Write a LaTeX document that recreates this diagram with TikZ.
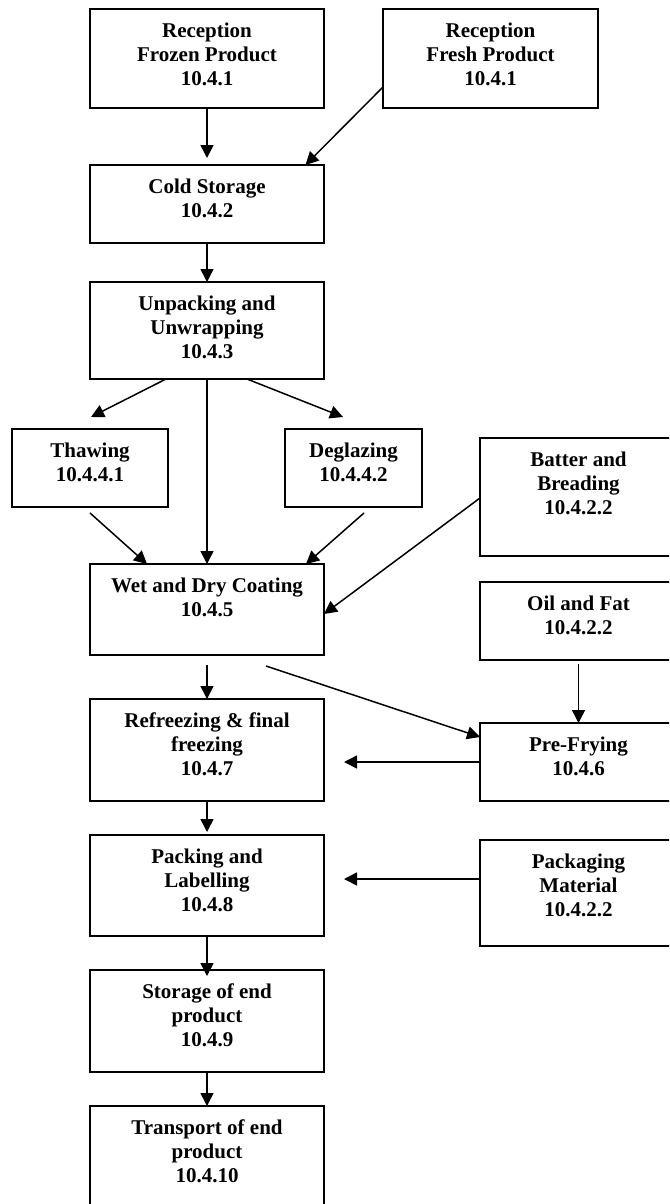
\documentclass[tikz,border=0pt]{standalone}
\usepackage{fontspec}
\setmainfont{Liberation Serif}
\usetikzlibrary{arrows.meta,calc}

% A process box: name, left x, top y, width, height, caption lines
\newcommand\procbox[6]{%
  \node[stepbox, minimum width=#4pt, minimum height=#5pt] (#1) at (#2,#3) {};
  \node[caption] (#1-text) at ($(#1.north)+(0,28.3)$)
    {\parbox[t]{#4pt}{\centering\fontsize{21}{24.3}\selectfont\bfseries #6}};%
}

\begin{document}
\begin{tikzpicture}[x=1pt,y=-1pt,
  stepbox/.style={draw, line width=1.5pt, inner sep=0pt, outer sep=0pt, anchor=north west},
  caption/.style={anchor=base, inner sep=0pt},
  flow/.style={line width=1.5pt, -{Triangle[length=13pt,width=13pt]}}]

\useasboundingbox (0,0) rectangle (669,1204);
\clip (0,0) rectangle (669,1204);

% main line of process steps
\procbox{frozen}{90}{9}{234}{99}{Reception\\Frozen Product\\10.4.1}
\procbox{fresh}{383}{9}{215}{99}{Reception\\Fresh Product\\10.4.1}
\procbox{cold}{90}{165}{234}{78}{Cold Storage\\10.4.2}
\procbox{unpack}{90}{282}{234}{97}{Unpacking and\\Unwrapping\\10.4.3}
\procbox{thaw}{12}{429}{156}{78}{Thawing\\10.4.4.1}
\procbox{degl}{285}{429}{137}{78}{Deglazing\\10.4.4.2}
\procbox{wet}{90}{564}{234}{91}{Wet and Dry Coating\\10.4.5}
\procbox{refreeze}{90}{699}{234}{102}{Refreezing \& final\\freezing\\10.4.7}
\procbox{packing}{90}{835}{234}{101}{Packing and\\Labelling\\10.4.8}
\procbox{storage}{90}{970}{234}{102}{Storage of end\\product\\10.4.9}
\procbox{transport}{90}{1106}{234}{130}{Transport of end\\product\\10.4.10}

% supplied materials and side steps
\procbox{batter}{480}{438}{197}{118}{Batter and\\Breading\\10.4.2.2}
\procbox{oil}{480}{582}{197}{78}{Oil and Fat\\10.4.2.2}
\procbox{prefry}{480}{723}{197}{78}{Pre-Frying\\10.4.6}
\procbox{packmat}{480}{840}{197}{106}{Packaging\\Material\\10.4.2.2}

% connectors
\draw[flow, shorten >=7pt] (frozen) -- (cold);
\draw[flow] ($(fresh.north west)+(0,78)$) -- ($(cold.north west)+(215.5,0)$);
\draw[flow] (cold) -- (unpack);
\draw[flow] ($(unpack.south west)+(76,0)$) -- ($(thaw.north)+(1,-12)$);
\draw[flow] (unpack) -- (wet);
\draw[flow] ($(unpack.south west)+(157,0)$) -- ($(degl.north west)+(58,-12)$);
\draw[flow] ($(thaw.south)+(0,6)$) -- ($(wet.north west)+(57,0)$);
\draw[flow] ($(degl.south)+(10.5,6)$) -- ($(wet.north west)+(216,0)$);
\draw[flow] ($(batter.north west)+(0,60)$) -- ($(wet.north east)+(0,50)$);
\draw[flow, shorten <=10pt] (wet) -- (refreeze);
\draw[flow] ($(wet.south west)+(176,11)$) -- ($(prefry.north west)+(0,14)$);
\draw[flow, shorten <=4pt] (oil) -- (prefry);
\draw[flow] (prefry.west) -- ($(refreeze.north east)+(20,63)$);
\draw[flow, shorten >=3pt] (refreeze) -- (packing);
\draw[flow] ($(packmat.north west)+(0,39)$) -- ($(packing.north east)+(20,44)$);
\draw[flow, shorten >=-6pt] (packing) -- (storage);
\draw[flow] (storage) -- (transport);
\end{tikzpicture}
\end{document}
